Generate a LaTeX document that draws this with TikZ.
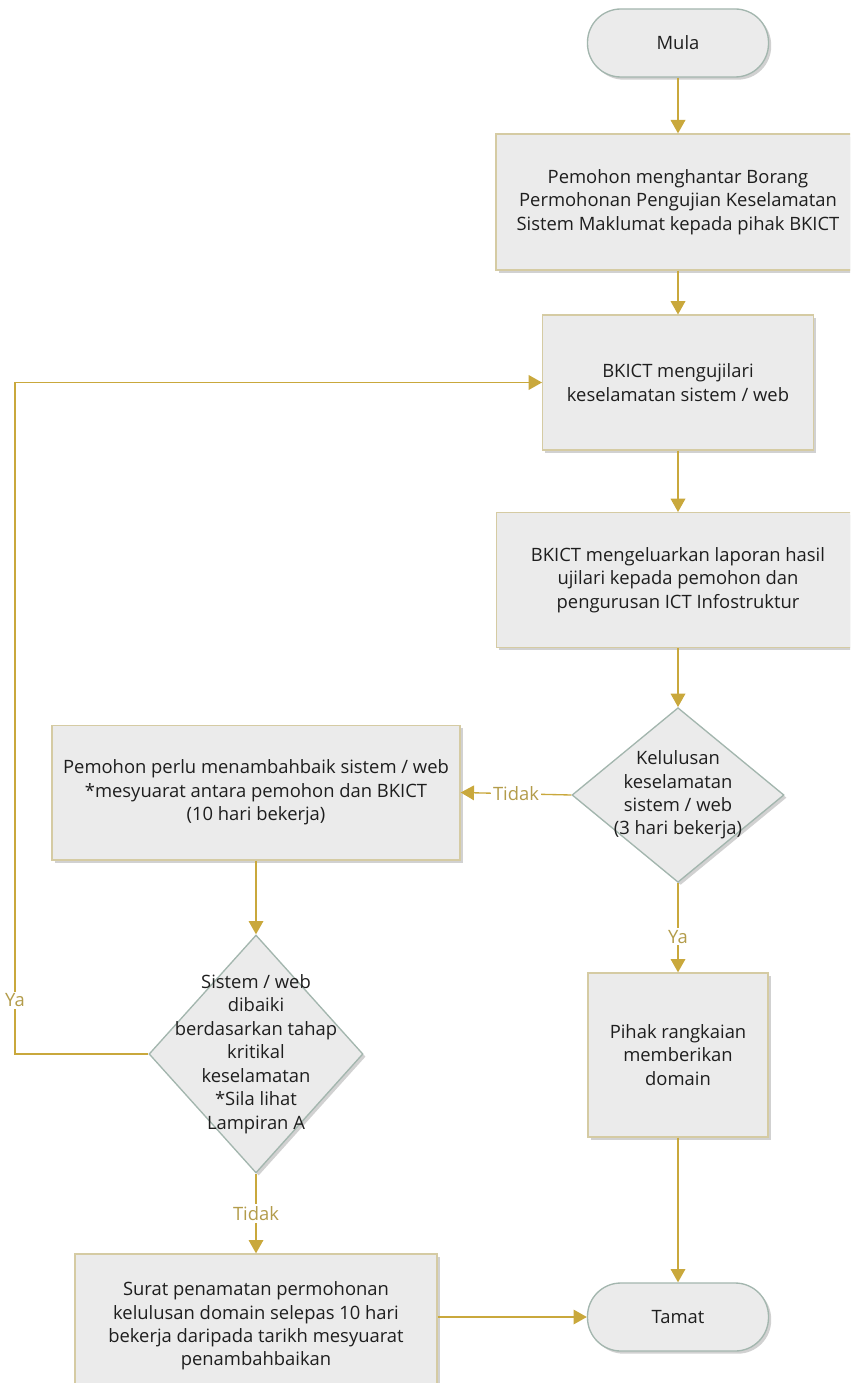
\documentclass[tikz,border=0pt]{standalone}
\usepackage{fontspec}
\setmainfont{Open Sans}
\usetikzlibrary{shapes.geometric,shadows,arrows.meta}
\definecolor{flowgold}{HTML}{C9A83C}
\definecolor{lblgold}{HTML}{B39C4A}
\definecolor{boxfill}{HTML}{EBEBEB}
\definecolor{boxline}{HTML}{D5CBA3}
\definecolor{termline}{HTML}{A3B6AE}
\definecolor{inktext}{HTML}{1E1E1E}
\tikzset{
  boxshadow/.style={drop shadow={shadow xshift=2pt,shadow yshift=-2pt,fill=black!18,opacity=1}},
  process/.style={rectangle,draw=boxline,fill=boxfill,line width=1pt,align=center,
    text=inktext,font=\fontsize{13.8}{17.6}\selectfont,inner sep=2pt,boxshadow},
  terminal/.style={rectangle,rounded corners=25pt,draw=termline,fill=boxfill,line width=1pt,
    minimum width=135.75pt,minimum height=51pt,text=inktext,font=\fontsize{13.8}{17.6}\selectfont,boxshadow},
  decision/.style={diamond,draw=termline,fill=boxfill,line width=1pt,inner sep=0pt,boxshadow},
  dtext/.style={align=center,text=inktext,font=\fontsize{13.8}{17.6}\selectfont},
  flow/.style={draw=flowgold,line width=1pt,-{Triangle[length=10pt,width=11pt]}},
  lbl/.style={fill=white,text=lblgold,inner sep=1.5pt,font=\fontsize{13.8}{16}\selectfont}
}
\begin{document}
\begin{tikzpicture}[x=0.75pt,y=-0.75pt]
    \useasboundingbox (0,0) rectangle (850,1383);
    \clip (0,0) rectangle (850,1383);
    % nodes
    \node[terminal] (mula) at (678,43) {Mula};
    \node[process,minimum width=273pt,minimum height=102pt] (hantar) at (678,202)
        {Pemohon menghantar Borang\\Permohonan Pengujian Keselamatan\\Sistem Maklumat kepada pihak BKICT};
    \node[process,minimum width=203pt,minimum height=101pt] (uji) at (678,382.5)
        {BKICT mengujilari\\keselamatan sistem / web};
    \node[process,minimum width=272pt,minimum height=101pt] (laporan) at (678,580)
        {BKICT mengeluarkan laporan hasil\\ujilari kepada pemohon dan\\pengurusan ICT Infostruktur};
    \node[decision,minimum width=159pt,minimum height=131pt] (lulus) at (678,795) {};
    \node[dtext] (lulustext) at (lulus.center) {Kelulusan\\keselamatan\\sistem / web\\(3 hari bekerja)};
    \node[process,minimum width=306pt,minimum height=101pt] (baiki) at (256,792.5)
        {Pemohon perlu menambahbaik sistem / web\\*mesyuarat antara pemohon dan BKICT\\(10 hari bekerja)};
    \node[decision,minimum width=160.5pt,minimum height=178.5pt] (dibaiki) at (256,1054) {};
    \node[dtext] (dibaikitext) at (dibaiki.center)
        {Sistem / web\\dibaiki\\berdasarkan tahap\\kritikal\\keselamatan\\*Sila lihat\\Lampiran A};
    \node[process,minimum width=135pt,minimum height=123pt] (domain) at (678,1055)
        {Pihak rangkaian\\memberikan\\domain};
    \node[process,minimum width=271.5pt,minimum height=108pt] (surat) at (256,1326)
        {Surat penamatan permohonan\\kelulusan domain selepas 10 hari\\bekerja daripada tarikh mesyuarat\\penambahbaikan};
    \node[terminal] (tamat) at (678,1317) {Tamat};
    \coordinate (loopc) at (15,1054);
    % connectors
    \draw[flow] (mula) -- (hantar);
    \draw[flow] (hantar) -- (uji);
    \draw[flow] (uji) -- (laporan);
    \draw[flow] (laporan) -- (lulus);
    \draw[flow] (lulus.west) -- node[lbl]{Tidak} (baiki.east);
    \draw[flow] (lulus.south) -- node[lbl,pos=0.6]{Ya} (domain.north);
    \draw[flow] (baiki) -- (dibaiki);
    \draw[flow] (dibaiki.south) -- node[lbl]{Tidak} (surat.north);
    \draw[flow] (dibaiki.west) -- (loopc) |- node[lbl,pos=0.04]{Ya} (uji.west);
    \draw[flow] (domain) -- (tamat);
    \draw[flow] (surat.east |- tamat.west) -- (tamat.west);
\end{tikzpicture}
\end{document}
